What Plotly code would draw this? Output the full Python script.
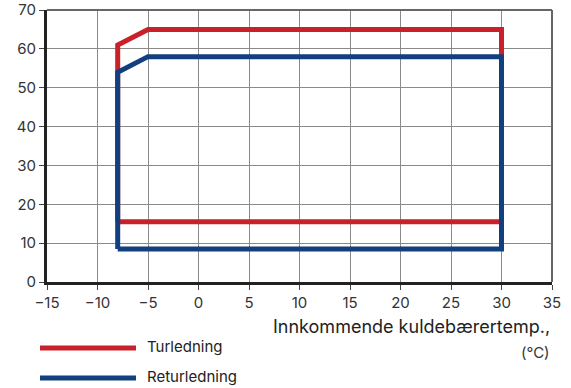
import plotly.graph_objects as go

# Data
turledning_x = [-8, -8, -5, 30, 30, -8]
turledning_y = [15.5, 61, 65, 65, 15.5, 15.5]
retur_x = [-8, -8, -5, 30, 30, -8]
retur_y = [8.5, 54, 58, 58, 8.5, 8.5]
x_ticks = [-15, -10, -5, 0, 5, 10, 15, 20, 25, 30, 35]
y_ticks = [0, 10, 20, 30, 40, 50, 60, 70]
series_names = ["Turledning", "Returledning"]
red = "#C9202A"
blue = "#123F7F"

W, H = 571, 388
ml, mr, mt, mb = 47, 19, 10, 106
pw, ph = W - ml - mr, H - mt - mb

def px_x(px):
    return (px - ml) / pw

def px_y(py):
    return (H - mb - py) / ph

fig = go.Figure()
fig.add_trace(go.Scatter(x=turledning_x, y=turledning_y, mode="lines",
                         line=dict(color=red, width=5), name=series_names[0],
                         showlegend=False))
fig.add_trace(go.Scatter(x=retur_x, y=retur_y, mode="lines",
                         line=dict(color=blue, width=5), name=series_names[1],
                         showlegend=False))

font = dict(family="Inter, Open Sans, sans-serif", size=15, color="#333333")

fig.update_layout(
    width=W, height=H,
    margin=dict(l=ml, r=mr, t=mt, b=mb, autoexpand=False),
    paper_bgcolor="white", plot_bgcolor="white",
    font=font,
    showlegend=False,
)
fig.update_xaxes(range=[-15, 35], tickvals=x_ticks, showgrid=True, automargin=False,
                 gridcolor="#8a8a8a", gridwidth=1, zeroline=False,
                 showline=True, linecolor="#222222", linewidth=3,
                 ticks="outside", ticklen=5, tickcolor="#444444", tickwidth=1,
                 tickfont=dict(size=15, color="#333333"))
fig.update_yaxes(range=[0, 70], tickvals=y_ticks, showgrid=True, automargin=False,
                 gridcolor="#8a8a8a", gridwidth=1, zeroline=False,
                 showline=True, linecolor="#222222", linewidth=3,
                 ticks="outside", ticklen=5, tickcolor="#444444", tickwidth=1,
                 tickfont=dict(size=15, color="#333333"))

# top/right border
fig.add_shape(type="line", xref="paper", yref="paper", x0=0, x1=1, y0=1, y1=1,
              line=dict(color="#666666", width=2))
fig.add_shape(type="line", xref="paper", yref="paper", x0=1, x1=1, y0=0, y1=1,
              line=dict(color="#666666", width=2))

# axis title
fig.add_annotation(text="Innkommende kuldebærertemp.,", xref="paper", yref="paper",
                   x=1, y=px_y(326), xanchor="right", yanchor="middle",
                   showarrow=False, font=dict(size=18, color="#222222"))
fig.add_annotation(text="(°C)", xref="paper", yref="paper",
                   x=1, y=px_y(352), xanchor="right", yanchor="middle",
                   showarrow=False, font=dict(size=15, color="#333333"))

# custom legend
for name, col, ypx in [(series_names[0], red, 348), (series_names[1], blue, 378)]:
    fig.add_shape(type="line", xref="paper", yref="paper",
                  x0=px_x(40), x1=px_x(136), y0=px_y(ypx), y1=px_y(ypx),
                  line=dict(color=col, width=5))
    fig.add_annotation(text=name, xref="paper", yref="paper",
                       x=px_x(145), y=px_y(ypx - 2), xanchor="left", yanchor="middle",
                       showarrow=False, font=dict(size=15, color="#222222"))

fig.write_html("out.html", config={"displayModeBar": False},
               post_script="document.body.style.margin='0';document.body.style.overflow='hidden';")
